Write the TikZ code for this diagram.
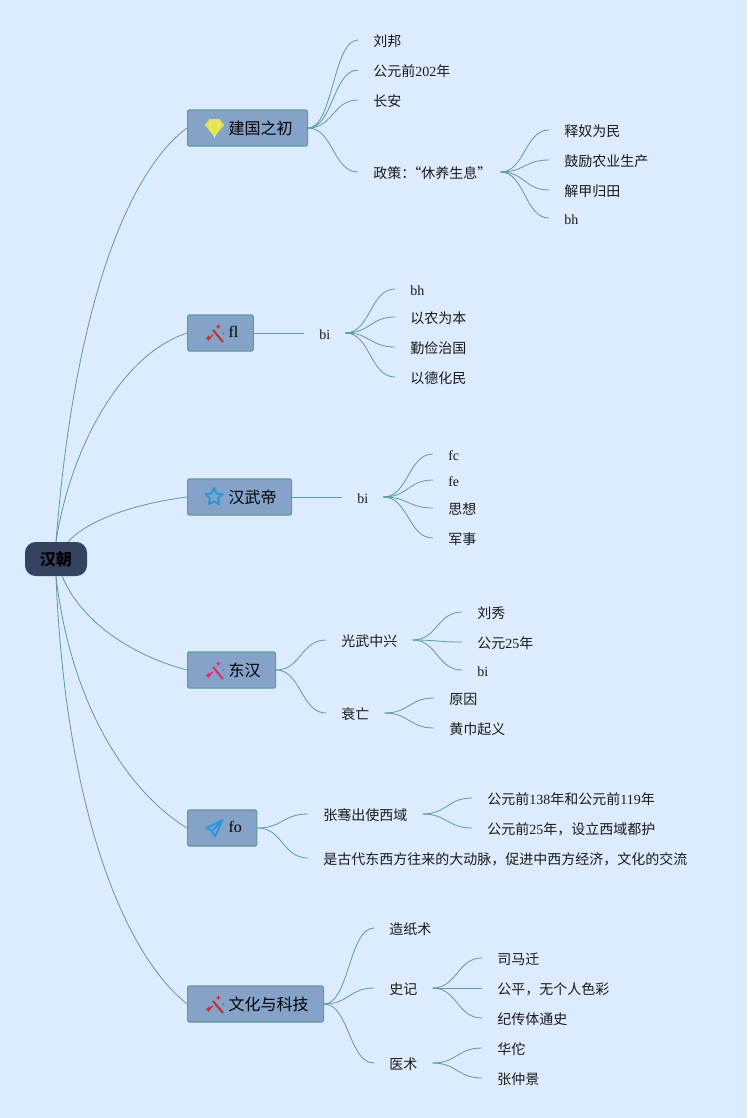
\documentclass[tikz,border=0pt]{standalone}
\usepackage{fontspec}
\usetikzlibrary{calc}
\setmainfont{Noto Sans CJK SC}
\newfontfamily\latfont{Liberation Serif}
\newcommand\lat[1]{{\latfont #1}}
\newcommand\cma{^^^^ff0c}
\newcommand\cln{^^^^ff1a}
\definecolor{bgc}{HTML}{DCEBFD}
\definecolor{linec}{HTML}{5F9A9C}
\definecolor{topicc}{HTML}{85A3C9}
\definecolor{rootc}{HTML}{354260}
\definecolor{redc}{HTML}{C62F2F}
\definecolor{pinkc}{HTML}{E0286E}
\definecolor{bluec}{HTML}{2A96DC}
\definecolor{gemc}{HTML}{E8E337}
\definecolor{textc}{HTML}{1A1A1A}
\tikzset{
  rootbox/.style={fill=rootc,rounded corners=8pt,minimum width=46.5pt,minimum height=25.5pt,inner sep=0pt,font=\fontsize{12}{14}\selectfont\bfseries,text=black},
  topicbox/.style={draw=linec,line width=0.8pt,fill=topicc,rounded corners=1pt,anchor=west,minimum height=27pt,inner ysep=0pt,inner xsep=11.25pt,font=\fontsize{12}{14}\selectfont,text=black},
  leaf/.style={anchor=west,inner xsep=11.25pt,inner ysep=0pt,font=\fontsize{10.5}{12}\selectfont,text=textc,text height=12.5pt,text depth=2.5pt,yshift=0.75pt},
  conn/.style={draw=linec,line width=0.6pt},
  wand/.pic={
    \draw[pic actions,line width=1.5pt] (-1,-4) -- (9,8);
    \draw[pic actions,line width=1pt] (-5.7,4.3) -- (-1,1);
    \fill[pic actions] (-5.7,1.3) -- (-4.8,3.4) -- (-2.7,4.3) -- (-4.8,5.2) -- (-5.7,7.3) -- (-6.6,5.2) -- (-8.7,4.3) -- (-6.6,3.4) -- cycle;
    \fill[pic actions] (4.3,-10) -- (5,-8) -- (7,-7.3) -- (5,-6.6) -- (4.3,-4.6) -- (3.6,-6.6) -- (1.6,-7.3) -- (3.6,-8) -- cycle;
    \fill[pic actions] (9.3,-0.7) circle (0.8);
  }
}
\newcommand\topicicon[1]{\hspace*{19.5pt}#1}
\newcommand\linkto[2]{\draw[conn] (#1.east) .. controls ($(#1.east)!0.5!(#2.west |- #1.east)$) and ($(#2.west)!0.5!(#1.east |- #2.west)$) .. (#2.west);}
\begin{document}
\begin{tikzpicture}[x=0.75pt,y=-0.75pt]
\useasboundingbox (0,0) rectangle (747,1118);
\fill[bgc] (0,0) rectangle (747,1118);

\node[rootbox] (root) at (56,559) {\raisebox{-0.75pt}{汉朝}};

\node[topicbox] (t1) at (187,128) {\topicicon{建国之初}};
\node[topicbox] (t2) at (187,333) {\topicicon{\raisebox{2.2pt}{\lat{fl}}}};
\node[topicbox] (t3) at (187,497) {\topicicon{汉武帝}};
\node[topicbox] (t4) at (187,670) {\topicicon{东汉}};
\node[topicbox] (t5) at (187,828) {\topicicon{\raisebox{2.2pt}{\lat{fo}}}};
\node[topicbox] (t6) at (187,1004) {\topicicon{文化与科技}};

% icons
\fill[gemc] (209.5,119) -- (219.5,119) -- (224,125) -- (214.5,137) -- (205,125) -- cycle;
\draw[bgc!60!gemc,line width=0.5pt] (205,125) -- (224,125) (209.5,125) -- (214.5,137) -- (219.5,125) (211,119) -- (209.5,125) -- (214.5,119.5) -- (219.5,125) -- (218,119);
\pic[color=redc] at (214,334) {wand};
\draw[bluec,line width=1.4pt,line join=round] (214,488) -- (216.6,493.6) -- (222.6,494.2) -- (218,498.2) -- (219.3,504.3) -- (214,501.2) -- (208.7,504.3) -- (210,498.2) -- (205.4,494.2) -- (211.4,493.6) -- cycle;
\pic[color=pinkc] at (214,671) {wand};
\draw[bluec,line width=1.5pt,line join=round] (222.5,820) -- (206.5,828) -- (212,831) -- (215,836.5) -- cycle (222.5,820) -- (212,831);
\pic[color=redc] at (214,1005) {wand};

% level 2 and 3
\node[leaf] (a1) at (358,41) {刘邦};
\node[leaf] (a2) at (358,71) {公元前\lat{202}年};
\node[leaf] (a3) at (358,101) {长安};
\node[leaf] (a4) at (358,173) {政策\cln\hspace*{-6pt}“休养生息”\hspace*{-4.5pt}};
\node[leaf] (a41) at (549,131) {释奴为民};
\node[leaf] (a42) at (549,161) {鼓励农业生产};
\node[leaf] (a43) at (549,191) {解甲归田};
\node[leaf] (a44) at (549,219) {\lat{bh}};

\node[leaf] (b) at (304,334) {\lat{bi}};
\node[leaf] (b1) at (395,290) {\lat{bh}};
\node[leaf] (b2) at (395,318) {以农为本};
\node[leaf] (b3) at (395,348) {勤俭治国};
\node[leaf] (b4) at (395,378) {以德化民};

\node[leaf] (c) at (342,498) {\lat{bi}};
\node[leaf] (c1) at (433,455) {\lat{fc}};
\node[leaf] (c2) at (433,481) {\lat{fe}};
\node[leaf] (c3) at (433,509) {思想};
\node[leaf] (c4) at (433,539) {军事};

\node[leaf] (d1) at (326,641) {光武中兴};
\node[leaf] (d11) at (462,613) {刘秀};
\node[leaf] (d12) at (462,643) {公元\lat{25}年};
\node[leaf] (d13) at (462,671) {\lat{bi}};
\node[leaf] (d2) at (326,714) {衰亡};
\node[leaf] (d21) at (434,699) {原因};
\node[leaf] (d22) at (434,729) {黄巾起义};

\node[leaf] (e1) at (308,815) {张骞出使西域};
\node[leaf] (e11) at (472,799) {公元前\lat{138}年和公元前\lat{119}年};
\node[leaf] (e12) at (472,829) {公元前\lat{25}年\cma 设立西域都护};
\node[leaf] (e2) at (308,859) {是古代东西方往来的大动脉\cma 促进中西方经济\cma 文化的交流};

\node[leaf] (f1) at (374,929) {造纸术};
\node[leaf] (f2) at (374,989) {史记};
\node[leaf] (f21) at (482,959) {司马迁};
\node[leaf] (f22) at (482,989) {公平\cma 无个人色彩};
\node[leaf] (f23) at (482,1019) {纪传体通史};
\node[leaf] (f3) at (374,1064) {医术};
\node[leaf] (f31) at (482,1049) {华佗};
\node[leaf] (f32) at (482,1079) {张仲景};

% root connectors
\draw[conn] (root.north) .. controls (75,300) and (130,170) .. (t1.west);
\draw[conn] (root.north) .. controls (70,450) and (120,355) .. (t2.west);
\draw[conn] (root.55) .. controls (90,518) and (140,503) .. (t3.west);
\draw[conn] (root.-70) .. controls (80,620) and (130,655) .. (t4.west);
\draw[conn] (root.south) .. controls (70,700) and (125,790) .. (t5.west);
\draw[conn] (root.south) .. controls (65,800) and (120,950) .. (t6.west);

% branch connectors
\linkto{t1}{a1}\linkto{t1}{a2}\linkto{t1}{a3}\linkto{t1}{a4}
\linkto{a4}{a41}\linkto{a4}{a42}\linkto{a4}{a43}\linkto{a4}{a44}
\linkto{t2}{b}
\linkto{b}{b1}\linkto{b}{b2}\linkto{b}{b3}\linkto{b}{b4}
\linkto{t3}{c}
\linkto{c}{c1}\linkto{c}{c2}\linkto{c}{c3}\linkto{c}{c4}
\linkto{t4}{d1}\linkto{t4}{d2}
\linkto{d1}{d11}\linkto{d1}{d12}\linkto{d1}{d13}
\linkto{d2}{d21}\linkto{d2}{d22}
\linkto{t5}{e1}\linkto{t5}{e2}
\linkto{e1}{e11}\linkto{e1}{e12}
\linkto{t6}{f1}\linkto{t6}{f2}\linkto{t6}{f3}
\linkto{f2}{f21}\linkto{f2}{f22}\linkto{f2}{f23}
\linkto{f3}{f31}\linkto{f3}{f32}
\end{tikzpicture}
\end{document}
